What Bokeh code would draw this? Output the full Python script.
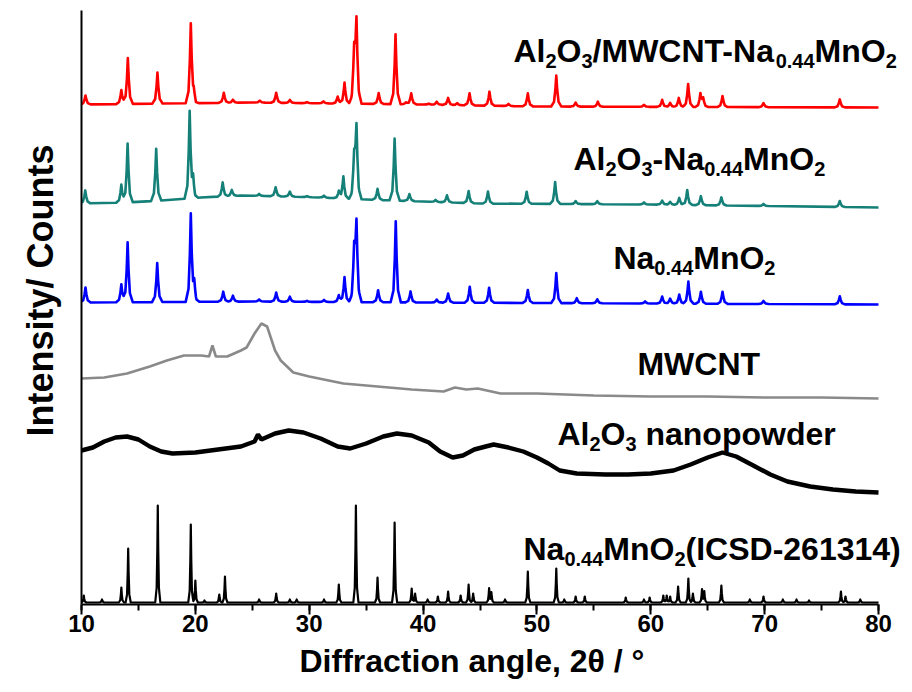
import numpy as np
from bokeh.plotting import figure
from bokeh.models import Label, SingleIntervalTicker, FixedTicker, Title
from bokeh.embed import file_html
from bokeh.resources import INLINE

# ---------------- data (2θ in degrees, intensity in arbitrary counts) ----------------
# Al2O3/MWCNT-Na0.44MnO2 (red)
red_pos = [10.35, 13.5, 14.07, 16.67, 19.6, 19.85, 22.5, 23.3, 25.66, 27.1, 28.3, 29.8, 31.25, 32.5, 33.1,
           33.95, 34.15, 36.1, 37.58, 38.5, 38.96, 40.5, 41.2, 42.2, 43.0, 44.08, 45.83, 47.5, 49.2, 51.7,
           53.4, 55.35, 59.4, 61.0, 61.7, 62.46, 63.28, 64.36, 64.6, 66.3, 69.9, 76.6]
red_h = [9, 14, 46, 31, 79, 8, 10, 3, 2, 10, 3, 1, 2, 7, 21,
         50, 80, 11, 70, 2, 11, 1, 3, 7, 2, 12, 14, 2, 13, 31,
         4, 5, 2, 7, 4, 9, 23, 13, 8, 11, 4, 8]
red_bg_x = [10, 25, 40, 50, 80]
red_bg_y = [500, 502, 500, 498, 497]

# Al2O3-Na0.44MnO2 (teal)
teal_pos = [10.33, 13.5, 14.05, 16.56, 19.5, 19.8, 22.4, 23.2, 25.6, 27.05, 28.3, 29.8, 31.3, 32.6, 33.0,
            33.95, 34.15, 36.0, 37.5, 38.8, 41.1, 42.1, 44.0, 45.7, 49.1, 51.6, 53.4, 55.3, 59.4, 61.0,
            61.7, 62.5, 63.2, 64.4, 66.2, 69.9, 76.6]
teal_h = [13, 18, 59, 52, 86, 17, 14, 6, 2, 9, 5, 1, 2, 7, 22,
          40, 70, 11, 62, 7, 2, 7, 12, 12, 12, 22, 3, 3, 2, 4,
          3, 7, 15, 9, 8, 2, 6]
teal_bg_x = [10, 14, 17, 20.5, 24, 28, 31, 35, 40, 45, 60, 80]
teal_bg_y = [401, 402, 404, 407, 409, 408, 407, 405, 403, 401, 400, 397]

# Na0.44MnO2 (blue)
blue_pos = [10.35, 13.5, 14.05, 16.65, 19.6, 19.9, 22.45, 23.3, 25.6, 27.1, 28.3, 29.8, 31.3, 32.6, 33.1,
            33.95, 34.15, 36.05, 37.6, 38.9, 41.2, 42.2, 44.1, 45.8, 49.2, 51.7, 53.5, 55.3, 59.5, 61.0,
            61.7, 62.5, 63.3, 64.4, 66.3, 69.9, 76.6]
blue_h = [15, 18, 60, 39, 87, 16, 10, 6, 2, 9, 5, 1, 2, 7, 25,
          50, 76, 12, 81, 11, 3, 9, 16, 15, 13, 30, 5, 4, 2, 7,
          5, 9, 22, 12, 12, 3, 8]
blue_bg_x = [10, 25, 40, 80]
blue_bg_y = [302, 303, 302, 300]

# Na0.44MnO2 reference pattern ICSD-261314 (black sticks)
icsd_pos = [10.2, 11.8, 13.5, 14.1, 16.7, 19.6, 20.0, 20.8, 22.1, 22.6, 25.6, 27.1, 28.3, 28.9, 31.3,
            32.6, 34.1, 36.0, 37.5, 39.0, 39.3, 40.4, 41.3, 42.2, 43.3, 44.0, 44.4, 45.8, 46.0, 47.2,
            49.2, 51.7, 52.4, 53.4, 54.2, 57.8, 59.4, 59.9, 61.1, 61.4, 61.7, 62.4, 63.3, 63.7, 64.5,
            64.7, 66.2, 68.7, 69.9, 71.6, 72.8, 73.9, 76.7, 77.1, 78.4]
icsd_h = [7, 3, 15, 54, 97, 78, 22, 2, 8, 26, 3, 9, 3, 3, 3,
          18, 97, 25, 80, 14, 9, 3, 6, 11, 7, 18, 9, 14, 10, 3,
          31, 34, 3, 6, 6, 5, 3, 5, 7, 7, 6, 16, 24, 9, 13,
          11, 17, 3, 6, 3, 3, 2, 11, 6, 3]
icsd_bg_x = [10, 80]
icsd_bg_y = [2, 2]

# MWCNT (grey, amorphous) – read point by point
mwcnt_x = [10, 12, 14, 16, 17.5, 19, 20.5, 21.2, 21.5, 21.8, 22.8, 24, 24.5, 25.2, 25.8, 26.3, 27, 27.5,
           28.6, 30, 33, 36, 39, 41.8, 42.8, 43.8, 44.8, 46.8, 50, 55, 60, 65, 70, 75, 80]
mwcnt_y = [226, 227, 231, 238, 244, 249, 249, 248, 259, 248, 248, 254, 257, 271, 281, 278, 254, 244,
           232, 228, 221, 218, 215, 213, 217, 215, 216, 211, 211, 209, 208, 208, 207, 207, 206]

# Al2O3 nanopowder (black, amorphous) – read point by point
al2o3_x = [10, 11, 12, 13, 14, 15, 16, 17, 18, 20, 22, 24, 25.2, 25.5, 25.8, 27, 28.2, 29.5, 31, 32.5,
           33.6, 35, 36.5, 37.7, 39, 40.5, 41.5, 42.6, 43.5, 44.5, 45.5, 46.2, 47.5, 48.8, 50, 51, 52,
           53.5, 56, 58, 60, 62, 63.5, 65, 66.3, 67.5, 69, 70.5, 72, 74, 76, 78, 80]
al2o3_y = [154, 157, 163, 167, 168, 165, 158, 153, 151, 152, 155, 158, 163, 170, 165, 171, 174, 172, 166, 158,
           156, 161, 168, 171, 169, 162, 153, 147, 149, 155, 158, 160, 157, 153, 147, 141, 134,
           131, 130, 130, 131, 134, 140, 147, 152, 148, 139, 130, 123, 118, 115, 113, 112]

x_ticks_major = [10, 20, 30, 40, 50, 60, 70, 80]

# ---------------- styling / layout ----------------
FONT = "Liberation Sans"
MAIN_SIZE = 32
SUB_SIZE = 20
SUB_DROP = 10
X_MIN, X_MAX = 10, 80
AXIS_PX = 797                      # pixels from 10° to 80°
PX_PER_DEG = AXIS_PX / (X_MAX - X_MIN)
FRAME_W = 826                      # frame continues right of 80° so labels are not clipped
FRAME_H = 594

# peak profile templates (shape only)
PROF_DX = np.array([-0.45, -0.2, -0.08, 0.0, 0.08, 0.2, 0.45])
PROF_FR = np.array([0.0, 0.15, 0.55, 1.0, 0.55, 0.15, 0.0])


def pattern(pos, h, bgx, bgy, scale=1.0):
    dx = PROF_DX * scale
    xs = [float(X_MIN), float(X_MAX)] + list(bgx)
    for c in pos:
        xs.extend(list(c + dx))
    xs = np.unique(np.clip(np.array(xs), X_MIN, X_MAX))
    ys = np.interp(xs, bgx, bgy)
    for c, hh in zip(pos, h):
        ys = ys + hh * np.interp(xs, c + dx, PROF_FR, left=0, right=0)
    return xs, ys


p = figure(frame_width=FRAME_W, frame_height=FRAME_H,
           x_range=(X_MIN, X_MIN + FRAME_W / PX_PER_DEG), y_range=(0, FRAME_H),
           output_backend="svg", toolbar_location=None,
           min_border_left=81, min_border_top=10, min_border_right=0, min_border_bottom=84)
p.outline_line_color = None
p.xgrid.visible = False
p.ygrid.visible = False
p.background_fill_color = "white"

for (pos, h, bx, by, col, lw, sc) in [
    (red_pos, red_h, red_bg_x, red_bg_y, "#FF0000", 2.6, 1.0),
    (teal_pos, teal_h, teal_bg_x, teal_bg_y, "#148078", 2.6, 1.0),
    (blue_pos, blue_h, blue_bg_x, blue_bg_y, "#0000FF", 2.6, 1.0),
    (icsd_pos, icsd_h, icsd_bg_x, icsd_bg_y, "#000000", 2.2, 0.5),
]:
    xs, ys = pattern(pos, h, bx, by, sc)
    p.line(xs, ys, line_color=col, line_width=lw, line_join="round")

p.line(mwcnt_x, mwcnt_y, line_color="#8A8A8A", line_width=2.6)
p.line(al2o3_x, al2o3_y, line_color="#000000", line_width=4.4)

# axes
xa = p.xaxis[0]
xa.ticker = SingleIntervalTicker(interval=10, num_minor_ticks=2)
xa.bounds = (X_MIN, X_MAX)
xa.major_label_text_font = FONT
xa.major_label_text_font_style = "bold"
xa.major_label_text_font_size = "24px"
xa.major_label_text_color = "black"
xa.major_label_standoff = 0
xa.major_tick_out = 10
xa.major_tick_in = 0
xa.minor_tick_out = 6
xa.minor_tick_in = 0
xa.axis_line_width = 2
xa.axis_line_color = "black"
xa.major_tick_line_width = 2
xa.minor_tick_line_width = 2
xa.major_tick_line_color = "black"
xa.minor_tick_line_color = "black"

ya = p.yaxis[0]
ya.ticker = FixedTicker(ticks=[])
ya.major_label_text_font_size = "0px"
ya.major_tick_out = 0
ya.minor_tick_out = 0
ya.axis_line_width = 2
ya.axis_line_color = "black"

# axis titles as positioned titles
x_title = Title(text="Diffraction angle, 2θ / °", align="left", offset=218, standoff=12,
                text_font=FONT, text_font_style="bold", text_font_size="32px", text_color="black")
p.add_layout(x_title, "below")
y_title = Title(text="Intensity/ Counts", align="left", vertical_align="top", offset=168, standoff=38,
                text_font=FONT, text_font_style="bold", text_font_size="36px", text_color="black")
p.add_layout(y_title, "left")

# ---------------- labels with subscripts ----------------
W = {'A': 722, 'C': 722, 'D': 722, 'I': 278, 'M': 833, 'N': 722, 'O': 778, 'S': 667, 'T': 611, 'W': 944,
     'a': 556, 'd': 611, 'e': 556, 'l': 278, 'n': 611, 'o': 611, 'p': 611, 'r': 389, 'w': 778,
     '/': 278, '-': 333, '.': 278, '(': 333, ')': 333, ' ': 278}
for dgt in "0123456789":
    W[dgt] = 556


def tw(s, size):
    return sum(W.get(c, 600) for c in s) / 1000.0 * size


def rich_label(x, y, parts):
    off = 0.0
    for txt, sub in parts:
        size = SUB_SIZE if sub else MAIN_SIZE
        stripped = txt.lstrip(" ")
        off += tw(txt[:len(txt) - len(stripped)], size)
        p.add_layout(Label(x=x, y=y, x_offset=off, y_offset=(-SUB_DROP if sub else 0), text=stripped,
                           text_font=FONT, text_font_style="bold", text_font_size=f"{size}px",
                           text_color="black", text_baseline="alphabetic", text_align="left"))
        off += tw(stripped, size)


rich_label(47.94, 554, [("Al", 0), ("2", 1), ("O", 0), ("3", 1), ("/MWCNT-Na", 0), ("0.44", 1), ("MnO", 0), ("2", 1)])
rich_label(53.21, 446, [("Al", 0), ("2", 1), ("O", 0), ("3", 1), ("-Na", 0), ("0.44", 1), ("MnO", 0), ("2", 1)])
rich_label(56.72, 347, [("Na", 0), ("0.44", 1), ("MnO", 0), ("2", 1)])
rich_label(58.83, 241, [("MWCNT", 0)])
rich_label(51.80, 171, [("Al", 0), ("2", 1), ("O", 0), ("3", 1), (" nanopowder", 0)])
rich_label(48.82, 56, [("Na", 0), ("0.44", 1), ("MnO", 0), ("2", 1), ("(ICSD-261314)", 0)])

open("out.html", "w").write(file_html(p, INLINE))
